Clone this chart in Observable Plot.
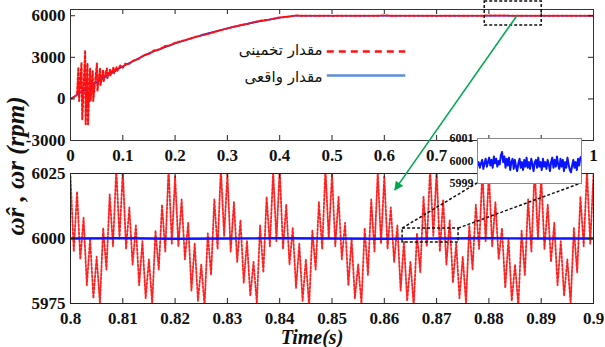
<!DOCTYPE html>
<html><head><meta charset="utf-8">
<script src="https://cdn.jsdelivr.net/npm/d3@7"></script>
<script src="https://cdn.jsdelivr.net/npm/@observablehq/plot@0.6"></script>
<style>
body{margin:0;background:#fff;}
#wrap{position:relative;width:605px;height:347px;overflow:hidden;background:#fff;}
#wrap > svg{position:absolute;overflow:visible;}
</style></head><body><div id="wrap"></div>
<script>
// ---------- data ----------
const actualT = [0, 0.025, 0.05, 0.075, 0.1, 0.15, 0.2, 0.25, 0.3, 0.35, 0.4, 0.43, 1.0];
const actualV = [0, 580, 1170, 1780, 2350, 3300, 4000, 4600, 5100, 5520, 5850, 6000, 6000];

const estT = [0, 0.006, 0.0125, 0.015, 0.0165, 0.021, 0.0225, 0.028, 0.029, 0.0325, 0.0335, 0.0375, 0.0385, 0.0425, 0.0435, 0.0505, 0.0515, 0.0565, 0.0575, 0.0625, 0.0635, 0.0695, 0.0705, 0.0755, 0.0765, 0.082, 0.083, 0.088, 0.089, 0.095, 0.1, 0.105, 0.11, 0.12, 0.13, 0.14, 0.15, 0.16, 0.17, 0.18, 0.19, 0.2, 0.22, 0.24, 0.26, 0.28, 0.3, 0.32, 0.34, 0.36, 0.38, 0.4, 0.42, 0.43, 0.5, 0.6, 0.7, 0.8, 1.0];
const estV = [0, 120, 300, 2270, -150, 2630, -1460, 3500, -1830, 2560, -1830, 2200, -150, 2000, -150, 2560, 585, 2200, 1000, 2100, 1300, 2200, 1500, 2100, 1700, 2250, 1850, 2300, 2000, 2400, 2250, 2550, 2480, 2750, 2880, 3150, 3250, 3500, 3560, 3800, 3860, 4050, 4250, 4480, 4650, 4880, 5080, 5280, 5420, 5620, 5720, 5880, 5950, 6010, 5990, 6010, 5990, 6010, 6000];

// zoomed window 0.8 – 0.9 s, estimated speed sampled every 0.000625 s
const zoomStart = 0.8, zoomStep = 0.000625;
const zoomEstV = [
 6024,5995,6018,5992,6008,5982,6000,5977,5993,5975,6004,5988,6017,5997,6027,6000,
 6026,5996,6012,5990,6005,5982,5999,5977,5992,5975,6003,5988,6013,5995,6027,5998,
 6024,5997,6015,5992,6006,5980,5998,5976,5990,5974,6002,5986,6015,5996,6027,6001,
 6025,5995,6014,5991,6007,5983,5999,5978,5991,5975,6005,5987,6016,5997,6026,5999,
 6027,5996,6013,5990,6004,5981,5998,5976,5992,5974,6003,5988,6014,5996,6027,6000,
 6025,5997,6016,5992,6006,5982,6000,5977,5990,5975,6004,5986,6015,5995,6026,5998,
 6024,5996,6012,5991,6005,5980,5999,5976,5991,5974,6002,5987,6016,5997,6027,6001,
 6026,5995,6015,5990,6007,5983,5998,5977,5993,5975,6005,5988,6013,5996,6026,5999,
 6025,5997,6014,5992,6004,5981,6000,5976,5990,5974,6003,5986,6015,5995,6027,6000,
 6024,5996,6013,5991,6006,5982,5999,5978,5992,5975,6004,5987,6016,5997,6026,5998,
 6025];
const zoomActT = [0.8, 0.81, 0.82, 0.83, 0.84, 0.85, 0.86, 0.87, 0.88, 0.89, 0.9];
const zoomActV = [6000, 6000.1, 5999.9, 6000, 6000.1, 6000, 5999.9, 6000, 6000.1, 6000, 6000];

// inset (detail of actual speed), evenly sampled across the small dashed box
const insetV = [
 5999.8,5999.95,5999.7,5999.9,6000.05,5999.65,5999.9,6000.1,5999.75,5999.95,
 6000.15,5999.8,6000.05,5999.7,6000.2,5999.9,6000.1,5999.75,6000.0,5999.85,
 6000.25,6000.4,5999.95,6000.2,5999.7,6000.1,5999.8,6000.15,5999.6,5999.95,
 6000.1,5999.65,6000.05,5999.75,5999.55,5999.9,6000.1,5999.7,5999.95,5999.6,
 6000.05,5999.75,6000.15,5999.7,5999.95,5999.65,6000.1,5999.85,5999.55,5999.95,
 6000.05,5999.7,6000.15,5999.75,5999.95,5999.6,6000.1,5999.75,5999.95,5999.65,
 6000.05,5999.85,5999.55,5999.95,6000.15,5999.7,6000.05,5999.75,6000.2,5999.85,
 5999.65,6000.1,5999.75,6000.05,5999.55,5999.95,5999.7,6000.15,5999.85,5999.6,
 5999.5,5999.8,6000.05,5999.7,5999.95,5999.6,6000.1,5999.8,6000.15,6000.2];

const topXTicks = [0, 0.1, 0.2, 0.3, 0.4, 0.5, 0.6, 0.7, 0.8, 0.9, 1];
const topYTicks = [-3000, 0, 3000, 6000];
const botXTicks = [0.8, 0.81, 0.82, 0.83, 0.84, 0.85, 0.86, 0.87, 0.88, 0.89, 0.9];
const botYTicks = [5975, 6000, 6025];
const insetYTicks = [5999, 6000, 6001];
const legendLabels = ["مقدار تخمینی", "مقدار واقعی"];
const xLabel = "Time(s)";
const yLabel = "ωr\u0302 ,  ωr (rpm)";

// zoom boxes (data coordinates)
const topBox = {x1: 0.792, x2: 0.901, y1: 5300, y2: 7030};
const botBox = {x1: 0.8635, x2: 0.8742, y1: 5998.5, y2: 6003.8};

// ---------- build tables ----------
const actual = actualT.map((t, i) => ({t, v: actualV[i]}));
const est = estT.map((t, i) => ({t, v: estV[i]}));
const zEst = zoomEstV.map((v, i) => ({t: zoomStart + i * zoomStep, v}));
const zAct = zoomActT.map((t, i) => ({t, v: zoomActV[i]}));
const insetData = insetV.map((v, i) => ({t: botBox.x1 + i * (botBox.x2 - botBox.x1) / (insetV.length - 1), v}));

const serif = "'Liberation Serif', 'Times New Roman', serif";
const fmt = d => String(d);

function inwardTicks(xt, yt, fw, fh, opts = {}) {
  const s = {stroke: "#222", strokeWidth: 1, ...opts};
  return [
    Plot.tickX(xt, {x: d => d, insetTop: fh - 5, ...s}),
    Plot.tickX(xt, {x: d => d, insetBottom: fh - 5, ...s}),
    Plot.tickY(yt, {y: d => d, insetRight: fw - 5, ...s}),
    Plot.tickY(yt, {y: d => d, insetLeft: fw - 5, ...s})
  ];
}

const W = 605, ML = 70, MR = 12;
const FW = W - ML - MR;
const baseStyle = {fontFamily: serif, fontWeight: "bold", background: "transparent", color: "#111", overflow: "visible"};

// ---------- top panel ----------
const topH = 160, topMT = 9, topMB = 20;
const topChart = Plot.plot({
  width: W, height: topH, marginLeft: ML, marginRight: MR, marginTop: topMT, marginBottom: topMB,
  x: {domain: [0, 1], label: null},
  y: {domain: [-3000, 6450], label: null},
  style: {...baseStyle, fontSize: "17px"},
  marks: [
    Plot.axisX(topXTicks, {tickSize: 0, tickPadding: 8, tickFormat: fmt, label: null}),
    Plot.axisY(topYTicks, {tickSize: 0, tickPadding: 5, tickFormat: fmt, label: null}),
    Plot.line(actual, {x: "t", y: "v", stroke: "#1030ff", strokeWidth: 1.6, clip: true}),
    Plot.line(est, {x: "t", y: "v", stroke: "#ff1010", strokeWidth: 2, strokeDasharray: "2.5,2", clip: true}),
    ...inwardTicks(topXTicks, topYTicks, FW, topH - topMT - topMB),
    Plot.frame({stroke: "#333"}),
    // legend
    Plot.ruleY([3420], {x1: 0.491, x2: 0.641, stroke: "#ff1010", strokeWidth: 2.5, strokeDasharray: "7,5"}),
    Plot.ruleY([1690], {x1: 0.491, x2: 0.641, stroke: "#5b8fd9", strokeWidth: 2.5}),
    Plot.text([legendLabels[0]], {text: d => d, x: 0.482, y: 3480, textAnchor: "end", fontFamily: "'DejaVu Sans', sans-serif", fontSize: 15, fontWeight: "normal", fill: "#111"}),
    Plot.text([legendLabels[1]], {text: d => d, x: 0.482, y: 1560, textAnchor: "end", fontFamily: "'DejaVu Sans', sans-serif", fontSize: 15, fontWeight: "normal", fill: "#111"})
  ]
});

// ---------- bottom panel ----------
const botTop = 160, botH = 187, botMT = 13, botMB = 44;
const botChart = Plot.plot({
  width: W, height: botH, marginLeft: ML, marginRight: MR, marginTop: botMT, marginBottom: botMB,
  x: {domain: [0.8, 0.9], label: null},
  y: {domain: [5975, 6025], label: null},
  style: {...baseStyle, fontSize: "17px"},
  marks: [
    Plot.axisX(botXTicks, {tickSize: 0, tickPadding: 8, tickFormat: fmt, label: null}),
    Plot.axisY(botYTicks, {tickSize: 0, tickPadding: 5, tickFormat: fmt, label: null}),
    Plot.line(zEst, {x: "t", y: "v", stroke: "#ff2020", strokeWidth: 1.8, strokeDasharray: "2.2,1.8", clip: true}),
    Plot.line(zAct, {x: "t", y: "v", stroke: "#0a14ff", strokeWidth: 2.4, clip: true}),
    ...inwardTicks(botXTicks, botYTicks, FW, botH - botMT - botMB),
    Plot.frame({stroke: "#222"}),
    Plot.text([xLabel], {text: d => d, frameAnchor: "bottom", dx: -20, dy: 40, fontSize: 20, fontStyle: "italic", fontWeight: "bold", fill: "#111"})
  ]
});

// ---------- inset ----------
const inLeft = 437, inTop = 130;
const insetChart = Plot.plot({
  width: 146, height: 55, marginLeft: 40, marginRight: 2, marginTop: 8, marginBottom: 2,
  x: {domain: [botBox.x1, botBox.x2], label: null, axis: null},
  y: {domain: [5999, 6001], label: null},
  style: {...baseStyle, fontSize: "12px"},
  marks: [
    Plot.frame({fill: "white"}),
    Plot.axisY(insetYTicks, {tickSize: 0, tickPadding: 4, tickFormat: fmt, label: null}),
    Plot.line(insetData, {x: "t", y: "v", stroke: "#0a14ff", strokeWidth: 2, clip: true}),
    Plot.frame({stroke: "#888"})
  ]
});

const wrap = document.getElementById("wrap");
topChart.style.left = "0px"; topChart.style.top = "0px";
botChart.style.left = "0px"; botChart.style.top = botTop + "px";
wrap.appendChild(topChart);
wrap.appendChild(botChart);

// ---------- overlay annotations ----------
const tx = topChart.scale("x"), ty = topChart.scale("y");
const bx = botChart.scale("x"), by = botChart.scale("y");
const ix = insetChart.scale("x"), iy = insetChart.scale("y");
const TX = v => tx.apply(v), TY = v => ty.apply(v);
const BX = v => bx.apply(v), BY = v => by.apply(v) + botTop;
const IX = v => ix.apply(v) + inLeft, IY = v => iy.apply(v) + inTop;

const ov = d3.select(wrap).append("svg").attr("width", W).attr("height", 347)
  .style("left", "0px").style("top", "0px");
ov.append("defs").append("marker").attr("id", "ah").attr("viewBox", "0 0 10 10")
  .attr("refX", 9).attr("refY", 5).attr("markerWidth", 11).attr("markerHeight", 9)
  .attr("markerUnits", "userSpaceOnUse").attr("orient", "auto")
  .append("path").attr("d", "M0,0L10,5L0,10z").attr("fill", "#00a84f");

const dash = {stroke: "#111", "stroke-width": 1.5, "stroke-dasharray": "3,2", fill: "none"};
function rect(x1, y1, x2, y2) {
  const r = ov.append("rect").attr("x", Math.min(x1, x2)).attr("y", Math.min(y1, y2))
    .attr("width", Math.abs(x2 - x1)).attr("height", Math.abs(y2 - y1));
  for (const k in dash) r.attr(k, dash[k]);
}
function line(x1, y1, x2, y2, style) {
  const l = ov.append("line").attr("x1", x1).attr("y1", y1).attr("x2", x2).attr("y2", y2);
  for (const k in style) l.attr(k, style[k]);
  return l;
}
rect(TX(topBox.x1), TY(topBox.y2), TX(topBox.x2), TY(topBox.y1));
rect(BX(botBox.x1), BY(botBox.y2), BX(botBox.x2), BY(botBox.y1));
line(BX(botBox.x1), BY(botBox.y2), IX(botBox.x1), IY(5999), dash);
line(BX(botBox.x2), BY(botBox.y2), IX(botBox.x2), IY(5999), dash);
line(TX(0.855), TY(6000), BX(0.8621), BY(6018.5), {stroke: "#00a84f", "stroke-width": 1.6})
  .attr("marker-end", "url(#ah)");

ov.append("text").attr("transform", "translate(24,166) rotate(-90)")
  .attr("text-anchor", "middle").attr("font-family", serif).attr("font-size", 25)
  .attr("font-weight", "bold").attr("font-style", "italic").attr("fill", "#111").text(yLabel);

insetChart.style.left = inLeft + "px"; insetChart.style.top = inTop + "px";
wrap.appendChild(insetChart);
</script></body></html>
